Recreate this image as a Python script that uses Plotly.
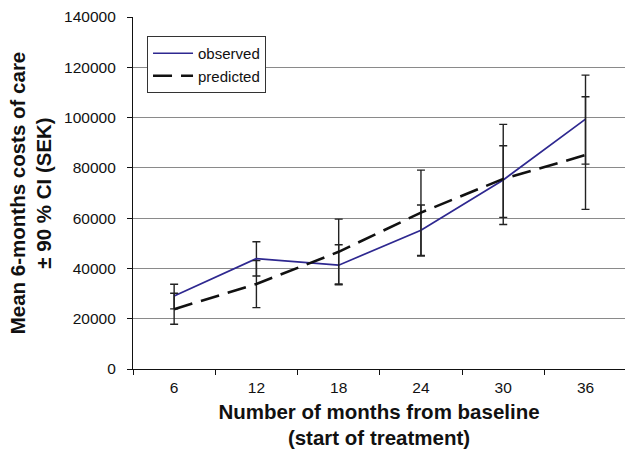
import plotly.graph_objects as go

months = ["6", "12", "18", "24", "30", "36"]

observed = [29000, 43900, 41300, 55200, 75200, 99400]
observed_low = [23900, 37000, 33500, 45200, 60300, 81500]
observed_high = [33700, 50600, 49400, 65200, 88800, 116900]

predicted = [23800, 33800, 46600, 62200, 75600, 85100]
predicted_low = [17800, 24400, 33800, 44900, 57500, 63500]
predicted_high = [30100, 43100, 59600, 79100, 97300, 108300]

y_ticks = [0, 20000, 40000, 60000, 80000, 100000, 120000, 140000]

FONT = "Liberation Sans, Arial, Helvetica, sans-serif"

fig = go.Figure()

fig.add_trace(go.Scatter(
    x=months, y=observed, name="observed", mode="lines",
    line=dict(color="#2e2890", width=1.7),
    error_y=dict(type="data", symmetric=False,
                 array=[h - v for h, v in zip(observed_high, observed)],
                 arrayminus=[v - l for l, v in zip(observed_low, observed)],
                 color="#222222", thickness=1.4, width=4),
))
fig.add_trace(go.Scatter(
    x=months, y=predicted, name="predicted", mode="lines",
    line=dict(color="#111111", width=2.6, dash="19px,9px"),
    error_y=dict(type="data", symmetric=False,
                 array=[h - v for h, v in zip(predicted_high, predicted)],
                 arrayminus=[v - l for l, v in zip(predicted_low, predicted)],
                 color="#222222", thickness=1.4, width=4),
))

fig.update_layout(
    width=625, height=456,
    margin=dict(l=133, r=0, t=17, b=87),
    paper_bgcolor="white", plot_bgcolor="white",
    font=dict(family=FONT, size=15, color="#111111"),
    showlegend=True,
    legend=dict(
        x=0.0285, y=0.946, xanchor="left", yanchor="top",
        bgcolor="white", bordercolor="#333333", borderwidth=1,
        font=dict(family=FONT, size=15, color="#111111"),
        tracegroupgap=0, itemwidth=40,
    ),
    xaxis=dict(
        type="category", range=[-0.5, 5.48],
        showline=True, linecolor="#111111", linewidth=1.2,
        ticks="outside", tickson="boundaries", ticklen=5, tickcolor="#111111",
        showgrid=False, zeroline=False, ticklabelstandoff=4,
        tickfont=dict(family=FONT, size=15.5, color="#111111"),
        title=dict(text="<b>Number of months from baseline<br>(start of treatment)</b>",
                   font=dict(family=FONT, size=20.5, color="#111111"), standoff=9),
    ),
    yaxis=dict(
        range=[0, 140000], tickvals=y_ticks, ticktext=[str(v) for v in y_ticks],
        showline=True, linecolor="#111111", linewidth=1.2,
        ticks="outside", ticklen=5, tickcolor="#111111",
        showgrid=True, gridcolor="#8a8a8a", gridwidth=1, zeroline=False,
        ticklabelstandoff=8,
        tickfont=dict(family=FONT, size=15.5, color="#111111"),
        title=dict(text="<b>Mean 6-months costs of care<br>± 90 % CI (SEK)</b>",
                   font=dict(family=FONT, size=20.5, color="#111111"), standoff=6),
    ),
)

fig.write_html("out.html")
